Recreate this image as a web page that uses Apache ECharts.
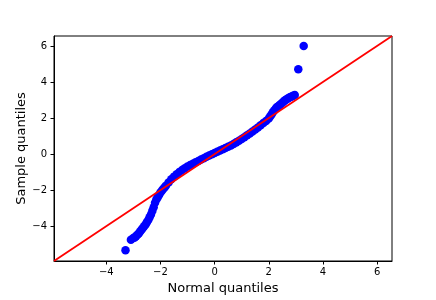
<!DOCTYPE html>
<html>
<head>
<meta charset="utf-8">
<script src="https://cdn.jsdelivr.net/npm/echarts@6/dist/echarts.min.js"></script>
<style>
html,body{margin:0;padding:0;background:#fff;}
#chart{width:436px;height:300px;}
</style>
</head>
<body>
<div id="chart"></div>
<script>
// Theoretical (normal) quantiles
var normalQuantiles = [
  -3.29, -3.09, -3.00, -2.95, -2.90, -2.85, -2.80, -2.75, -2.70, -2.65,
  -2.60, -2.55, -2.50, -2.45, -2.40, -2.35, -2.30, -2.25, -2.20, -2.15,
  -2.10, -2.05, -2.00, -1.95, -1.90, -1.85, -1.80, -1.70, -1.60, -1.50,
  -1.40, -1.30, -1.20, -1.10, -1.00, -0.90, -0.80, -0.70, -0.60, -0.50,
  -0.40, -0.30, -0.20, -0.10, 0.00, 0.10, 0.20, 0.30, 0.40, 0.50,
  0.60, 0.70, 0.80, 0.90, 1.00, 1.10, 1.20, 1.30, 1.40, 1.50,
  1.60, 1.70, 1.80, 1.90, 2.00, 2.05, 2.10, 2.15, 2.20, 2.25,
  2.30, 2.35, 2.40, 2.45, 2.50, 2.55, 2.60, 2.65, 2.70, 2.75,
  2.80, 2.85, 2.90, 2.96, 3.09, 3.29
];
// Sample quantiles
var sampleQuantiles = [
  -5.34, -4.75, -4.66, -4.62, -4.55, -4.48, -4.40, -4.30, -4.20, -4.10,
  -4.00, -3.90, -3.78, -3.66, -3.50, -3.35, -3.15, -2.95, -2.70, -2.52,
  -2.40, -2.27, -2.13, -2.03, -1.94, -1.85, -1.76, -1.57, -1.40, -1.25,
  -1.12, -0.99, -0.88, -0.78, -0.69, -0.61, -0.53, -0.45, -0.38, -0.30,
  -0.23, -0.15, -0.08, -0.01, 0.06, 0.13, 0.20, 0.27, 0.34, 0.41,
  0.48, 0.56, 0.65, 0.74, 0.84, 0.94, 1.04, 1.14, 1.25, 1.36,
  1.48, 1.60, 1.72, 1.84, 1.98, 2.08, 2.20, 2.32, 2.42, 2.52,
  2.60, 2.66, 2.72, 2.78, 2.85, 2.92, 2.98, 3.03, 3.08, 3.12,
  3.16, 3.20, 3.24, 3.28, 4.70, 5.99
];
// Axis limits and tick labels
var axisLimits = [-5.93, 6.55];
var tickValues = [-4, -2, 0, 2, 4, 6];
var xTitle = 'Normal quantiles';
var yTitle = 'Sample quantiles';

var points = normalQuantiles.map(function (x, i) { return [x, sampleQuantiles[i]]; });
var refLine = [[axisLimits[0], axisLimits[0]], [axisLimits[1], axisLimits[1]]];

function fmt(v) { return String(v).replace('-', '\u2212'); }

var font = 'DejaVu Sans';
function axisCfg(name, isX) {
  return {
    type: 'value',
    min: axisLimits[0],
    max: axisLimits[1],
    name: name,
    nameLocation: 'middle',
    nameMoveOverlap: false,
    nameGap: isX ? 21 : 26,
    nameTextStyle: { fontFamily: font, fontSize: 13, color: '#000' },
    axisLine: { show: true, onZero: false, lineStyle: { color: '#000', width: 1 } },
    axisTick: { show: true, inside: false, length: 3.5, customValues: tickValues, lineStyle: { color: '#000', width: 1 } },
    axisLabel: { show: true, customValues: tickValues, margin: isX ? 6 : 7, fontFamily: font, fontSize: 10, color: '#000', formatter: fmt },
    splitLine: { show: false }
  };
}

var chart = echarts.init(document.getElementById('chart'), null, { renderer: 'canvas' });
chart.setOption({
  animation: false,
  backgroundColor: '#fff',
  grid: { left: 54, right: 44, top: 36, bottom: 38, show: true, borderColor: '#000', borderWidth: 1, backgroundColor: 'transparent' },
  xAxis: axisCfg(xTitle, true),
  yAxis: axisCfg(yTitle, false),
  series: [
    {
      type: 'scatter',
      data: points,
      symbol: 'circle',
      symbolSize: 8.5,
      itemStyle: { color: '#0000ff', opacity: 1 },
      z: 2
    },
    {
      type: 'line',
      data: refLine,
      showSymbol: false,
      symbol: 'none',
      lineStyle: { color: '#ff0000', width: 1.8 },
      z: 3
    }
  ]
});
</script>
</body>
</html>
